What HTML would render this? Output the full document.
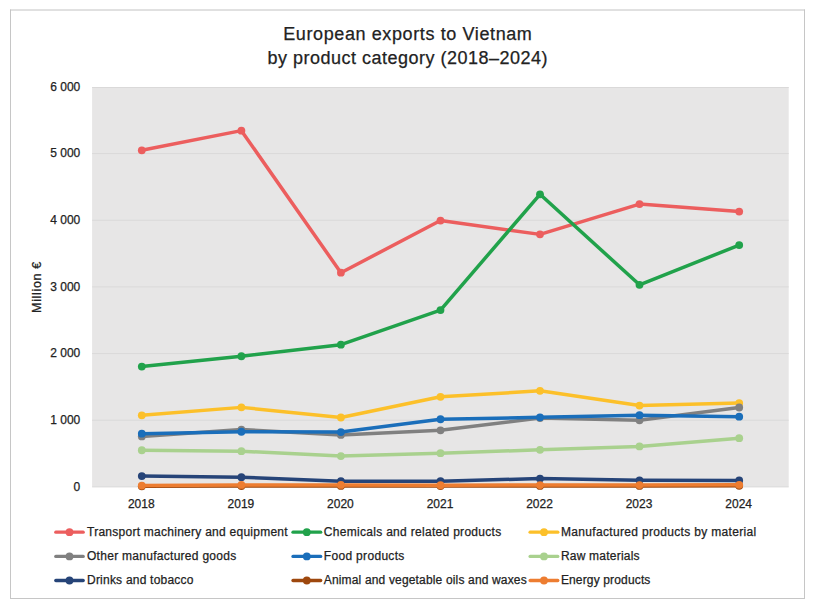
<!DOCTYPE html>
<html><head><meta charset="utf-8"><title>European exports to Vietnam</title>
<style>
html,body{margin:0;padding:0;background:#fff;}
body{width:814px;height:610px;position:relative;overflow:hidden;font-family:"Liberation Sans",sans-serif;color:#1a1a1a;}
.t{position:absolute;white-space:nowrap;line-height:1;-webkit-text-stroke:0.25px #222;color:#222;}
.title{font-size:18px;color:#222;}
.yl{font-size:12px;text-align:right;width:60px;left:20.3px;}
.xl{font-size:12px;text-align:center;width:60px;}
.lg{font-size:12px;}
</style></head><body>
<svg width="814" height="610" viewBox="0 0 814 610" style="position:absolute;left:0;top:0">
<path d="M10.5 9.5V599M804.5 9.5V599M10 598.5H805" fill="none" stroke="#C6C6C6" stroke-width="1"/>
<path d="M10 10H805" fill="none" stroke="#C2C2C2" stroke-width="1"/>
<rect x="92.1" y="87" width="696.6" height="399.9" fill="#E7E6E6"/>
<line x1="92.1" x2="788.7" y1="87.5" y2="87.5" stroke="#DAD9D9" stroke-width="1"/>
<line x1="92.1" x2="788.7" y1="153.57" y2="153.57" stroke="#DAD9D9" stroke-width="1"/>
<line x1="92.1" x2="788.7" y1="220.23" y2="220.23" stroke="#DAD9D9" stroke-width="1"/>
<line x1="92.1" x2="788.7" y1="286.9" y2="286.9" stroke="#DAD9D9" stroke-width="1"/>
<line x1="92.1" x2="788.7" y1="353.57" y2="353.57" stroke="#DAD9D9" stroke-width="1"/>
<line x1="92.1" x2="788.7" y1="420.24" y2="420.24" stroke="#DAD9D9" stroke-width="1"/>
<line x1="92.1" x2="788.7" y1="486.9" y2="486.9" stroke="#DAD9D9" stroke-width="1"/>
<polyline points="141.8,150.3 241.4,130.63 340.9,272.7 440.5,220.57 540.0,234.37 639.5,204.1 739.2,211.57" fill="none" stroke="#EC5E5E" stroke-width="3.5" stroke-linejoin="round" stroke-linecap="round"/>
<circle cx="141.8" cy="150.3" r="3.9" fill="#EC5E5E"/>
<circle cx="241.4" cy="130.63" r="3.9" fill="#EC5E5E"/>
<circle cx="340.9" cy="272.7" r="3.9" fill="#EC5E5E"/>
<circle cx="440.5" cy="220.57" r="3.9" fill="#EC5E5E"/>
<circle cx="540.0" cy="234.37" r="3.9" fill="#EC5E5E"/>
<circle cx="639.5" cy="204.1" r="3.9" fill="#EC5E5E"/>
<circle cx="739.2" cy="211.57" r="3.9" fill="#EC5E5E"/>
<polyline points="141.8,366.57 241.4,356.23 340.9,344.7 440.5,310.1 540.0,194.3 639.5,284.83 739.2,245.1" fill="none" stroke="#21A24B" stroke-width="3.5" stroke-linejoin="round" stroke-linecap="round"/>
<circle cx="141.8" cy="366.57" r="3.9" fill="#21A24B"/>
<circle cx="241.4" cy="356.23" r="3.9" fill="#21A24B"/>
<circle cx="340.9" cy="344.7" r="3.9" fill="#21A24B"/>
<circle cx="440.5" cy="310.1" r="3.9" fill="#21A24B"/>
<circle cx="540.0" cy="194.3" r="3.9" fill="#21A24B"/>
<circle cx="639.5" cy="284.83" r="3.9" fill="#21A24B"/>
<circle cx="739.2" cy="245.1" r="3.9" fill="#21A24B"/>
<polyline points="141.8,415.3 241.4,407.37 340.9,417.5 440.5,396.83 540.0,390.83 639.5,405.57 739.2,403.1" fill="none" stroke="#FCC02A" stroke-width="3.5" stroke-linejoin="round" stroke-linecap="round"/>
<circle cx="141.8" cy="415.3" r="3.9" fill="#FCC02A"/>
<circle cx="241.4" cy="407.37" r="3.9" fill="#FCC02A"/>
<circle cx="340.9" cy="417.5" r="3.9" fill="#FCC02A"/>
<circle cx="440.5" cy="396.83" r="3.9" fill="#FCC02A"/>
<circle cx="540.0" cy="390.83" r="3.9" fill="#FCC02A"/>
<circle cx="639.5" cy="405.57" r="3.9" fill="#FCC02A"/>
<circle cx="739.2" cy="403.1" r="3.9" fill="#FCC02A"/>
<polyline points="141.8,436.43 241.4,429.57 340.9,434.9 440.5,430.3 540.0,418.1 639.5,420.3 739.2,407.5" fill="none" stroke="#808080" stroke-width="3.5" stroke-linejoin="round" stroke-linecap="round"/>
<circle cx="141.8" cy="436.43" r="3.9" fill="#808080"/>
<circle cx="241.4" cy="429.57" r="3.9" fill="#808080"/>
<circle cx="340.9" cy="434.9" r="3.9" fill="#808080"/>
<circle cx="440.5" cy="430.3" r="3.9" fill="#808080"/>
<circle cx="540.0" cy="418.1" r="3.9" fill="#808080"/>
<circle cx="639.5" cy="420.3" r="3.9" fill="#808080"/>
<circle cx="739.2" cy="407.5" r="3.9" fill="#808080"/>
<polyline points="141.8,433.7 241.4,431.77 340.9,432.03 440.5,419.23 540.0,417.37 639.5,415.17 739.2,416.7" fill="none" stroke="#1A6EBA" stroke-width="3.5" stroke-linejoin="round" stroke-linecap="round"/>
<circle cx="141.8" cy="433.7" r="3.9" fill="#1A6EBA"/>
<circle cx="241.4" cy="431.77" r="3.9" fill="#1A6EBA"/>
<circle cx="340.9" cy="432.03" r="3.9" fill="#1A6EBA"/>
<circle cx="440.5" cy="419.23" r="3.9" fill="#1A6EBA"/>
<circle cx="540.0" cy="417.37" r="3.9" fill="#1A6EBA"/>
<circle cx="639.5" cy="415.17" r="3.9" fill="#1A6EBA"/>
<circle cx="739.2" cy="416.7" r="3.9" fill="#1A6EBA"/>
<polyline points="141.8,450.23 241.4,451.17 340.9,456.1 440.5,453.17 540.0,449.83 639.5,446.43 739.2,438.17" fill="none" stroke="#A9D18E" stroke-width="3.5" stroke-linejoin="round" stroke-linecap="round"/>
<circle cx="141.8" cy="450.23" r="3.9" fill="#A9D18E"/>
<circle cx="241.4" cy="451.17" r="3.9" fill="#A9D18E"/>
<circle cx="340.9" cy="456.1" r="3.9" fill="#A9D18E"/>
<circle cx="440.5" cy="453.17" r="3.9" fill="#A9D18E"/>
<circle cx="540.0" cy="449.83" r="3.9" fill="#A9D18E"/>
<circle cx="639.5" cy="446.43" r="3.9" fill="#A9D18E"/>
<circle cx="739.2" cy="438.17" r="3.9" fill="#A9D18E"/>
<polyline points="141.8,476.03 241.4,477.17 340.9,481.17 440.5,481.17 540.0,478.57 639.5,480.3 739.2,480.43" fill="none" stroke="#264478" stroke-width="3.5" stroke-linejoin="round" stroke-linecap="round"/>
<circle cx="141.8" cy="476.03" r="3.9" fill="#264478"/>
<circle cx="241.4" cy="477.17" r="3.9" fill="#264478"/>
<circle cx="340.9" cy="481.17" r="3.9" fill="#264478"/>
<circle cx="440.5" cy="481.17" r="3.9" fill="#264478"/>
<circle cx="540.0" cy="478.57" r="3.9" fill="#264478"/>
<circle cx="639.5" cy="480.3" r="3.9" fill="#264478"/>
<circle cx="739.2" cy="480.43" r="3.9" fill="#264478"/>
<polyline points="141.8,486.37 241.4,486.1 340.9,485.97 440.5,486.1 540.0,485.97 639.5,485.97 739.2,485.83" fill="none" stroke="#9E480E" stroke-width="3.5" stroke-linejoin="round" stroke-linecap="round"/>
<circle cx="141.8" cy="486.37" r="3.9" fill="#9E480E"/>
<circle cx="241.4" cy="486.1" r="3.9" fill="#9E480E"/>
<circle cx="340.9" cy="485.97" r="3.9" fill="#9E480E"/>
<circle cx="440.5" cy="486.1" r="3.9" fill="#9E480E"/>
<circle cx="540.0" cy="485.97" r="3.9" fill="#9E480E"/>
<circle cx="639.5" cy="485.97" r="3.9" fill="#9E480E"/>
<circle cx="739.2" cy="485.83" r="3.9" fill="#9E480E"/>
<polyline points="141.8,485.57 241.4,484.9 340.9,484.9 440.5,485.23 540.0,485.03 639.5,485.03 739.2,484.83" fill="none" stroke="#ED7D31" stroke-width="3.5" stroke-linejoin="round" stroke-linecap="round"/>
<circle cx="141.8" cy="485.57" r="3.9" fill="#ED7D31"/>
<circle cx="241.4" cy="484.9" r="3.9" fill="#ED7D31"/>
<circle cx="340.9" cy="484.9" r="3.9" fill="#ED7D31"/>
<circle cx="440.5" cy="485.23" r="3.9" fill="#ED7D31"/>
<circle cx="540.0" cy="485.03" r="3.9" fill="#ED7D31"/>
<circle cx="639.5" cy="485.03" r="3.9" fill="#ED7D31"/>
<circle cx="739.2" cy="484.83" r="3.9" fill="#ED7D31"/>
<line x1="55.800000000000004" x2="83.2" y1="532.2" y2="532.2" stroke="#EC5E5E" stroke-width="3.3" stroke-linecap="round"/>
<circle cx="69.5" cy="532.2" r="3.9" fill="#EC5E5E"/>
<line x1="293.0" x2="320.7" y1="532.2" y2="532.2" stroke="#21A24B" stroke-width="3.3" stroke-linecap="round"/>
<circle cx="306.8" cy="532.2" r="3.9" fill="#21A24B"/>
<line x1="530.1" x2="557.8" y1="532.2" y2="532.2" stroke="#FCC02A" stroke-width="3.3" stroke-linecap="round"/>
<circle cx="544.0" cy="532.2" r="3.9" fill="#FCC02A"/>
<line x1="55.800000000000004" x2="83.2" y1="556.4" y2="556.4" stroke="#808080" stroke-width="3.3" stroke-linecap="round"/>
<circle cx="69.5" cy="556.4" r="3.9" fill="#808080"/>
<line x1="293.0" x2="320.7" y1="556.4" y2="556.4" stroke="#1A6EBA" stroke-width="3.3" stroke-linecap="round"/>
<circle cx="306.8" cy="556.4" r="3.9" fill="#1A6EBA"/>
<line x1="530.1" x2="557.8" y1="556.4" y2="556.4" stroke="#A9D18E" stroke-width="3.3" stroke-linecap="round"/>
<circle cx="544.0" cy="556.4" r="3.9" fill="#A9D18E"/>
<line x1="55.800000000000004" x2="83.2" y1="580.5" y2="580.5" stroke="#264478" stroke-width="3.3" stroke-linecap="round"/>
<circle cx="69.5" cy="580.5" r="3.9" fill="#264478"/>
<line x1="293.0" x2="320.7" y1="580.5" y2="580.5" stroke="#9E480E" stroke-width="3.3" stroke-linecap="round"/>
<circle cx="306.8" cy="580.5" r="3.9" fill="#9E480E"/>
<line x1="530.1" x2="557.8" y1="580.5" y2="580.5" stroke="#ED7D31" stroke-width="3.3" stroke-linecap="round"/>
<circle cx="544.0" cy="580.5" r="3.9" fill="#ED7D31"/>
</svg>
<div class="t title" id="t1" style="left:283.2px;top:24.7px;letter-spacing:0.61px;">European exports to Vietnam</div>
<div class="t title" id="t2" style="left:267.4px;top:48.6px;letter-spacing:0.5px;">by product category (2018–2024)</div>
<div class="t yl" style="top:80.6px;">6 000</div>
<div class="t yl" style="top:147.3px;">5 000</div>
<div class="t yl" style="top:213.9px;">4 000</div>
<div class="t yl" style="top:280.6px;">3 000</div>
<div class="t yl" style="top:347.3px;">2 000</div>
<div class="t yl" style="top:413.9px;">1 000</div>
<div class="t yl" style="top:480.6px;">0</div>
<div class="t xl" style="left:111.3px;top:497.5px;">2018</div>
<div class="t xl" style="left:210.9px;top:497.5px;">2019</div>
<div class="t xl" style="left:310.4px;top:497.5px;">2020</div>
<div class="t xl" style="left:410.0px;top:497.5px;">2021</div>
<div class="t xl" style="left:509.5px;top:497.5px;">2022</div>
<div class="t xl" style="left:609.0px;top:497.5px;">2023</div>
<div class="t xl" style="left:708.7px;top:497.5px;">2024</div>
<div class="t" id="ytitle" style="font-size:12.5px;letter-spacing:0.66px;left:37px;top:286.9px;transform:translate(-50%,-50%) rotate(-90deg);">Million €</div>
<div class="t lg" id="lg0" style="left:87.0px;top:525.6px;letter-spacing:0.26px;">Transport machinery and equipment</div>
<div class="t lg" id="lg1" style="left:323.8px;top:525.6px;letter-spacing:0.3px;">Chemicals and related products</div>
<div class="t lg" id="lg2" style="left:560.9px;top:525.6px;letter-spacing:0.33px;">Manufactured products by material</div>
<div class="t lg" id="lg3" style="left:87.0px;top:549.8px;letter-spacing:0.28px;">Other manufactured goods</div>
<div class="t lg" id="lg4" style="left:323.8px;top:549.8px;letter-spacing:0.32px;">Food products</div>
<div class="t lg" id="lg5" style="left:560.9px;top:549.8px;letter-spacing:0.22px;">Raw materials</div>
<div class="t lg" id="lg6" style="left:87.0px;top:573.9px;letter-spacing:0.22px;">Drinks and tobacco</div>
<div class="t lg" id="lg7" style="left:323.8px;top:573.9px;letter-spacing:0.16px;">Animal and vegetable oils and waxes</div>
<div class="t lg" id="lg8" style="left:560.9px;top:573.9px;letter-spacing:0.15px;">Energy products</div>
</body></html>
